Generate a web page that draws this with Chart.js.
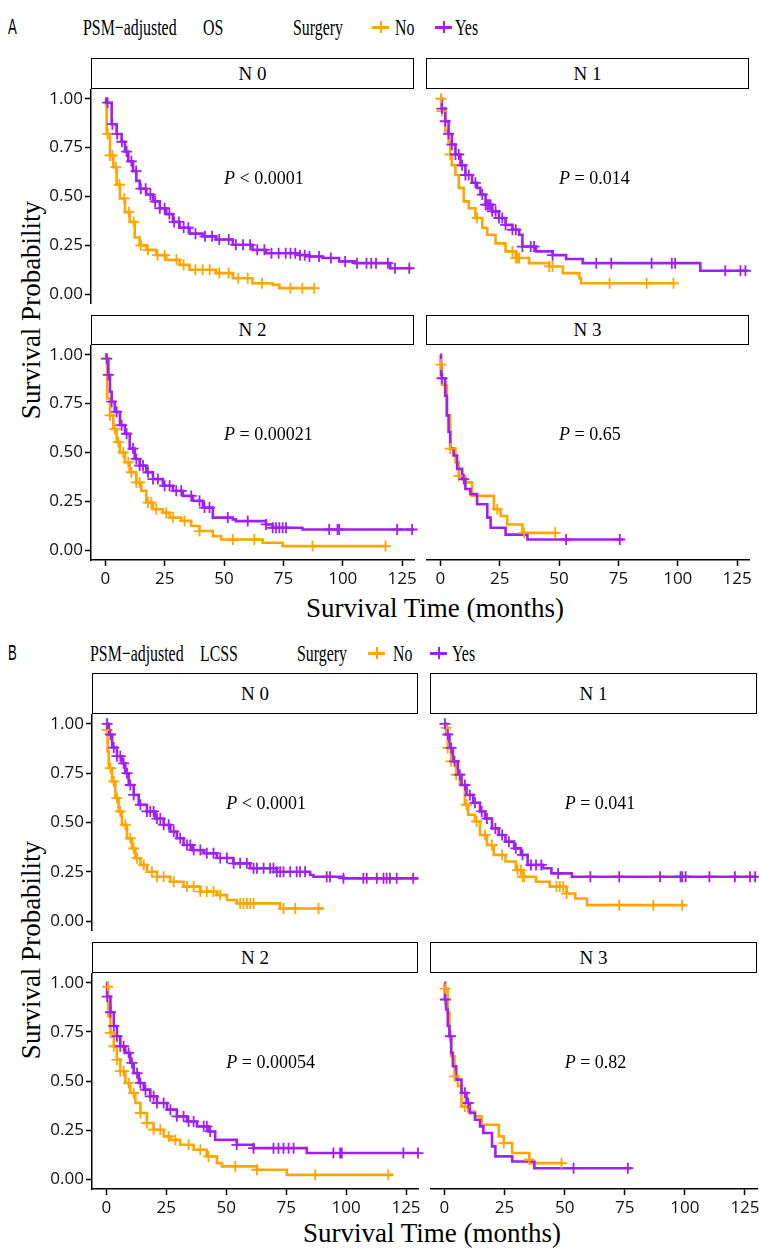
<!DOCTYPE html>
<html lang="en">
<head>
<meta charset="UTF-8">
<title>PSM-adjusted OS / LCSS by N stage</title>
<script src="https://cdn.jsdelivr.net/npm/chart.js"></script>
<style>
  body { margin: 0; background: #fff; }
  #page { position: relative; width: 759px; height: 1249px; overflow: hidden; background: #fff; }
  canvas { position: absolute; }
  .txt { position: absolute; white-space: nowrap; color: #000; line-height: 1; }
  .serif { font-family: "Liberation Serif", "Times New Roman", serif; }
  .tag { font-family: "Liberation Sans", Arial, sans-serif; font-size: 22px; transform: translateY(-50%) scaleX(0.6); transform-origin: left center; }
  .head { font-size: 23px; transform: translateY(-50%) scaleX(0.69); transform-origin: left center; }
  .strip { position: absolute; box-sizing: border-box; border: 1.5px solid #000; background: #fff;
           font-family: "Liberation Serif", serif; font-size: 19px; display: flex; align-items: center; justify-content: center; }
  .key { position: absolute; width: 17px; height: 12px; transform: translateY(-50%); }
  .key .h { position: absolute; left: 0; top: 5px; width: 17px; height: 2.5px; }
  .key .v { position: absolute; left: 7.5px; top: 0; width: 2px; height: 12px; }
  .ytitle { position: absolute; font-size: 27px; transform: translate(-50%, -50%) rotate(-90deg); white-space: nowrap; }
  .xtitle { position: absolute; font-size: 27px; transform: translate(-50%, -50%); white-space: nowrap; }
</style>
</head>
<body>
<div id="page">
  <!-- figure A header -->
  <div class="txt tag" style="left:8px; top:27px">A</div>
  <div class="txt serif head" style="left:83px; top:27px">PSM−adjusted</div>
  <div class="txt serif head" style="left:203px; top:27px">OS</div>
  <div class="txt serif head" style="left:293px; top:27px">Surgery</div>
  <div class="key" style="left:372px; top:27px"><div class="h" style="background:#FFA500"></div><div class="v" style="background:#FFA500"></div></div>
  <div class="txt serif head" style="left:395px; top:27px">No</div>
  <div class="key" style="left:435px; top:27px"><div class="h" style="background:#A020F0"></div><div class="v" style="background:#A020F0"></div></div>
  <div class="txt serif head" style="left:455px; top:27px">Yes</div>

  <div class="strip" style="left:91px; top:58px; width:323px; height:31px">N 0</div>
  <div class="strip" style="left:426px; top:58px; width:323px; height:31px">N 1</div>
  <div class="strip" style="left:91px; top:315px; width:323px; height:30px">N 2</div>
  <div class="strip" style="left:426px; top:315px; width:323px; height:30px">N 3</div>
  <div class="ytitle serif" style="left:31px; top:310px">Survival Probability</div>
  <div class="xtitle serif" style="left:435px; top:608px">Survival Time (months)</div>

  <!-- figure B header -->
  <div class="txt tag" style="left:8px; top:653px">B</div>
  <div class="txt serif head" style="left:90px; top:653px">PSM−adjusted</div>
  <div class="txt serif head" style="left:200px; top:653px">LCSS</div>
  <div class="txt serif head" style="left:297px; top:653px">Surgery</div>
  <div class="key" style="left:368px; top:653px"><div class="h" style="background:#FFA500"></div><div class="v" style="background:#FFA500"></div></div>
  <div class="txt serif head" style="left:393px; top:653px">No</div>
  <div class="key" style="left:430px; top:653px"><div class="h" style="background:#A020F0"></div><div class="v" style="background:#A020F0"></div></div>
  <div class="txt serif head" style="left:452px; top:653px">Yes</div>

  <div class="strip" style="left:92px; top:673px; width:326px; height:41px">N 0</div>
  <div class="strip" style="left:430px; top:673px; width:327px; height:41px">N 1</div>
  <div class="strip" style="left:92px; top:942px; width:326px; height:31px">N 2</div>
  <div class="strip" style="left:430px; top:942px; width:327px; height:31px">N 3</div>
  <div class="ytitle serif" style="left:31px; top:950px">Survival Probability</div>
  <div class="xtitle serif" style="left:432px; top:1233px">Survival Time (months)</div>
</div>

<script>
    // axis ticks
    const xTicks = [0, 25, 50, 75, 100, 125];
    const yTicks = [0, 0.25, 0.5, 0.75, 1];

    // p values (text after the italic P)
    const pvalsA = ['< 0.0001', '= 0.014', '= 0.00021', '= 0.65'];
    const pvalsB = ['< 0.0001', '= 0.041', '= 0.00054', '= 0.82'];

    // ---- A: OS ----
    // N 0
    const aN0NoT = [0, 0.3, 0.6, 2, 3.4, 4.8, 6.2, 8.3, 10.3, 12.4, 14.5, 17.3, 21.5, 25.7, 31.3, 35.5, 46.7, 53.7, 62, 70.5, 73.3, 88.5];
    const aN0NoS = [1, 0.97, 0.82, 0.71, 0.65, 0.56, 0.49, 0.42, 0.37, 0.29, 0.25, 0.227, 0.2, 0.176, 0.15, 0.125, 0.108, 0.082, 0.056, 0.048, 0.031, 0.031];
    const aN0NoCens = [1, 2, 3, 4.5, 6, 8, 10, 12, 15, 18, 22, 25, 30, 33, 38, 41, 44, 48, 52, 56, 60, 66, 78, 83, 88];
    const aN0YesT = [0, 0.5, 2.7, 4.8, 6.9, 8.3, 9.7, 11.7, 13.1, 14.5, 17.3, 20.1, 23, 25.7, 28.5, 31.3, 35.5, 41, 46.7, 53.7, 62, 67.7, 81.7, 86, 91.5, 98.5, 105, 120, 129];
    const aN0YesS = [1, 0.98, 0.87, 0.82, 0.78, 0.73, 0.68, 0.63, 0.58, 0.54, 0.51, 0.475, 0.44, 0.41, 0.37, 0.34, 0.31, 0.296, 0.28, 0.253, 0.227, 0.21, 0.2, 0.193, 0.185, 0.168, 0.159, 0.133, 0.133];
    const aN0YesCens = [1, 3, 5, 7, 9, 11, 13, 15, 17, 19, 21, 23, 25, 27, 29, 31, 33, 35, 38, 42, 45, 48, 52, 55, 58, 61, 64, 67, 70, 73, 76, 78, 80, 82, 84, 86, 90, 95, 101, 106, 110, 112, 114, 119, 122, 128];
    // N 1
    const aN1NoT = [0, 0.5, 2.1, 3.5, 4.2, 4.9, 6.4, 7.8, 9.9, 12, 14.8, 17.7, 19.8, 23.3, 27.5, 31.8, 37.4, 45.9, 51.6, 58.6, 59.3, 99];
    const aN1NoS = [1, 0.937, 0.834, 0.78, 0.715, 0.66, 0.61, 0.544, 0.475, 0.44, 0.39, 0.34, 0.304, 0.26, 0.219, 0.185, 0.159, 0.142, 0.108, 0.082, 0.056, 0.056];
    const aN1NoCens = [0.3, 0.7, 4.2, 15.5, 30.4, 31.8, 32.5, 33.2, 45.9, 47.3, 71.3, 86.9, 98.2];
    const aN1YesT = [0, 0.7, 2.1, 3.5, 4.9, 6.4, 8.5, 10.6, 13.4, 15.5, 16.9, 19.1, 21.9, 24.7, 27.5, 30.4, 33.2, 34.6, 40.3, 47.3, 53, 60, 109.5, 129.5];
    const aN1YesS = [1, 0.95, 0.885, 0.82, 0.766, 0.715, 0.66, 0.61, 0.57, 0.544, 0.51, 0.458, 0.424, 0.39, 0.355, 0.33, 0.304, 0.244, 0.219, 0.2, 0.18, 0.159, 0.12, 0.12];
    const aN1YesCens = [0.7, 2.1, 3.5, 4.9, 6.4, 7.8, 9.2, 10.6, 12, 14.8, 17.7, 19.1, 19.8, 20.5, 21.2, 21.9, 23.3, 24.7, 26.1, 27.5, 30.4, 31.8, 34.6, 38.1, 39.5, 47.3, 65.7, 72, 89, 97.5, 98.9, 120, 126.4, 128.5];
    // N 2
    const aN2NoT = [0, 0.3, 0.8, 2, 3.4, 4.8, 6.2, 8.3, 10.3, 13.1, 15.2, 17.3, 20.1, 24.3, 27.1, 32, 36.2, 39.7, 45.3, 48.8, 66.3, 74.7, 118.7];
    const aN2NoS = [1, 0.98, 0.776, 0.69, 0.62, 0.553, 0.5, 0.45, 0.399, 0.347, 0.304, 0.244, 0.21, 0.192, 0.167, 0.15, 0.124, 0.098, 0.072, 0.055, 0.038, 0.021, 0.021];
    const aN2NoCens = [0.6, 2, 4.1, 5.5, 7.6, 9.7, 11, 13.1, 14.5, 18, 19.4, 21.5, 25.7, 28.5, 33.4, 39.7, 53.7, 62.8, 87.3, 118];
    const aN2YesT = [0, 0.6, 1.3, 2, 2.7, 4, 6.2, 8.3, 10.3, 12.4, 14.5, 17.3, 20.1, 24.3, 28.5, 32.7, 36.9, 41.1, 45.3, 53.7, 55, 67.7, 70.5, 83, 130];
    const aN2YesS = [1, 0.98, 0.897, 0.81, 0.76, 0.708, 0.64, 0.596, 0.52, 0.467, 0.433, 0.399, 0.364, 0.33, 0.304, 0.278, 0.253, 0.218, 0.167, 0.158, 0.149, 0.132, 0.115, 0.106, 0.106];
    const aN2YesCens = [0.6, 1.3, 2.7, 4.8, 6.9, 9, 11.7, 13.1, 14.5, 15.9, 18, 20.1, 22.2, 25, 27.1, 29.9, 32, 36.2, 39.7, 41.8, 43.9, 51.6, 60, 67.7, 70.5, 71.9, 73.3, 74.7, 76.1, 94.3, 97.8, 98.5, 122.9, 129.2];
    // N 3
    const aN3NoT = [0, 0.3, 0.7, 2.8, 4.2, 6.4, 7.8, 10.6, 13.4, 22.6, 25.4, 28.2, 34.6, 49.4];
    const aN3NoS = [1, 0.95, 0.845, 0.69, 0.52, 0.45, 0.38, 0.347, 0.278, 0.21, 0.175, 0.132, 0.089, 0.089];
    const aN3NoCens = [0.3, 4.2, 7.8, 24, 35.3, 48.4];
    const aN3YesT = [0, 0.3, 0.7, 2.1, 2.8, 3.5, 4.2, 5.6, 7.1, 9.2, 10.6, 12.7, 15.5, 19.8, 21.2, 27.5, 36.7, 77];
    const aN3YesS = [1, 0.897, 0.88, 0.79, 0.69, 0.605, 0.519, 0.485, 0.416, 0.364, 0.313, 0.287, 0.235, 0.167, 0.115, 0.08, 0.055, 0.055];
    const aN3YesCens = [0.7, 9.9, 53, 75.6];

    // ---- B: LCSS ----
    // N 0
    const bN0NoT = [0, 0.2, 0.5, 1, 2.4, 3.75, 5.1, 6.5, 8.6, 10.7, 12.1, 14.2, 16.9, 21.1, 26.7, 32.2, 39.2, 46.1, 50.3, 54.4, 72.5, 90.6];
    const bN0NoS = [1, 0.97, 0.86, 0.776, 0.708, 0.624, 0.556, 0.488, 0.42, 0.369, 0.319, 0.285, 0.25, 0.225, 0.2, 0.175, 0.15, 0.132, 0.107, 0.09, 0.064, 0.064];
    const bN0NoCens = [0.3, 1.7, 3.1, 4.4, 5.8, 7.9, 10, 11.4, 12.8, 15.6, 19, 21.1, 23.9, 28.1, 33.6, 36.4, 39.2, 41.9, 44.7, 47.5, 55.8, 57.2, 58.6, 60, 61.4, 73.9, 78.8, 88.5];
    const bN0YesT = [0, 1, 2.4, 4.4, 6.5, 7.9, 9.3, 11.4, 13.5, 16.9, 20.4, 23.9, 26.7, 29.4, 32.2, 35.7, 40.6, 46.1, 53, 60, 71, 85, 86.4, 98.9, 130];
    const bN0YesS = [1, 0.946, 0.88, 0.836, 0.8, 0.75, 0.69, 0.64, 0.59, 0.556, 0.52, 0.488, 0.454, 0.42, 0.386, 0.36, 0.344, 0.32, 0.293, 0.268, 0.25, 0.234, 0.225, 0.217, 0.217];
    const bN0YesCens = [0.3, 1.7, 3.1, 4.4, 5.8, 7.2, 8.6, 10, 11.4, 14.2, 16.9, 18.3, 19.7, 21.1, 22.5, 23.9, 26, 28.1, 30.8, 33.6, 35, 36.4, 39.2, 41.9, 44.7, 47.5, 50.3, 53.1, 55.8, 58.6, 61.4, 62.8, 65.6, 68.3, 69.7, 71.1, 72.5, 73.9, 76.7, 79.4, 80.8, 82.9, 91.9, 93.3, 98.9, 107.2, 108.6, 112.8, 115.6, 116.9, 118.3, 121.1, 128];
    // N 1
    const bN1NoT = [0, 0.7, 1.4, 2.8, 4.9, 6.4, 8.5, 9.9, 12.7, 14.8, 17.7, 20.5, 25.4, 29.7, 32.5, 38.1, 43.8, 50.8, 54.4, 59.3, 100.3];
    const bN1NoS = [1, 0.98, 0.878, 0.81, 0.742, 0.69, 0.59, 0.539, 0.505, 0.437, 0.386, 0.336, 0.302, 0.259, 0.225, 0.2, 0.175, 0.14, 0.115, 0.081, 0.081];
    const bN1NoCens = [0.7, 1.4, 2.8, 4.9, 9.2, 13.4, 16.9, 19.8, 24, 30.4, 31.8, 32.5, 33.2, 46.6, 48, 49.4, 50.8, 72.7, 86.9, 98.9];
    const bN1YesT = [0, 0.7, 2.1, 3.5, 5.6, 7.1, 9.2, 12, 14.8, 16.9, 19.8, 22.6, 25.4, 29, 31.8, 34.6, 41, 44.5, 53, 131];
    const bN1YesS = [1, 0.946, 0.878, 0.81, 0.742, 0.69, 0.64, 0.6, 0.556, 0.52, 0.47, 0.437, 0.403, 0.369, 0.336, 0.285, 0.268, 0.242, 0.225, 0.225];
    const bN1YesCens = [0.2, 1.4, 2.8, 4.2, 6.4, 8.5, 10.6, 12.7, 15.5, 17.7, 21.2, 24, 26.8, 29.7, 32.5, 36, 38.1, 40.3, 47.3, 60.7, 72.7, 89.7, 98.2, 98.9, 100.3, 110.2, 120.8, 127.1, 129.2];
    // N 2
    const bN2NoT = [0, 0.3, 0.8, 1.7, 3.1, 4.4, 5.8, 7.9, 10, 12.1, 14.2, 16.9, 19.7, 23.9, 26.7, 30.8, 36.4, 41.9, 46.1, 48.2, 62.8, 75.3, 119.7];
    const bN2NoS = [1, 0.98, 0.83, 0.745, 0.677, 0.609, 0.55, 0.49, 0.439, 0.388, 0.337, 0.286, 0.252, 0.218, 0.2, 0.175, 0.15, 0.116, 0.082, 0.065, 0.048, 0.022, 0.022];
    const bN2NoCens = [0.6, 1.7, 3.1, 4.4, 5.8, 7.2, 9.3, 11.4, 14.2, 16.9, 19.7, 22.5, 26, 28.8, 34.3, 39.2, 42.6, 53.8, 62.8, 87.1, 117.6];
    const bN2YesT = [0, 0.3, 1.7, 3.1, 4.4, 5.8, 7.9, 10, 11.4, 13.5, 15.6, 18.3, 21.1, 25.3, 29.4, 33.6, 37.8, 42.6, 45.4, 54.4, 61.4, 83.6, 131];
    const bN2YesS = [1, 0.93, 0.85, 0.78, 0.728, 0.677, 0.643, 0.592, 0.54, 0.49, 0.456, 0.422, 0.388, 0.354, 0.32, 0.294, 0.269, 0.243, 0.2, 0.175, 0.158, 0.133, 0.133];
    const bN2YesCens = [0.3, 1.7, 3.1, 4.4, 5.8, 7.2, 9.3, 10.7, 12.8, 14.2, 16.3, 18.3, 19.7, 21.1, 23.9, 26.7, 29.4, 32.2, 34.3, 36.4, 40.6, 41.9, 43.3, 54.4, 61.4, 69.7, 71.8, 73.9, 76, 78.1, 94.7, 97.5, 98.2, 123.9, 130];
    // N 3
    const bN3NoT = [0, 0.3, 1.4, 2.1, 2.8, 4.2, 5.6, 7.1, 9.9, 12.7, 15.5, 22.6, 24.7, 28.2, 35.3, 36, 49.4];
    const bN3NoS = [1, 0.97, 0.847, 0.728, 0.626, 0.524, 0.473, 0.37, 0.345, 0.32, 0.277, 0.218, 0.184, 0.133, 0.099, 0.082, 0.082];
    const bN3NoCens = [0.3, 4.2, 8.5, 24.7, 35.3, 48.7];
    const bN3YesT = [0, 0.2, 0.7, 1.4, 2.1, 2.8, 3.5, 4.9, 7.1, 9.2, 10.6, 12.7, 14.8, 16.2, 19.8, 21.2, 28.2, 37.4, 77.7];
    const bN3YesS = [1, 0.915, 0.864, 0.78, 0.728, 0.643, 0.575, 0.507, 0.44, 0.388, 0.337, 0.303, 0.269, 0.235, 0.167, 0.116, 0.09, 0.056, 0.056];
    const bN3YesCens = [0.4, 2.5, 8.5, 9.9, 53.7, 76.3];

    const colNo = '#FFA500';
    const colYes = '#A020F0';
    const serif = '"Liberation Serif", "Times New Roman", serif';

    // value of the step curve at time t (for censor marks)
    function survAt(ts, ss, t) {
        var v = ss[0];
        for (var i = 0; i < ts.length; i++) {
            if (ts[i] <= t) v = ss[i];
        }
        return v;
    }

    function curve(ts, ss) {
        return ts.map((t, i) => ({ x: t, y: ss[i] }));
    }

    function marks(ts, ss, cens) {
        return cens.map(c => ({ x: c, y: survAt(ts, ss, c) }));
    }

    // writes "P = ..." with italic P, left edge at (50 months, 0.59)
    const pvalPlugin = {
        id: 'pval',
        afterDatasetsDraw(chart, args, opts) {
            const ctx = chart.ctx;
            const x = chart.scales.x.getPixelForValue(50);
            const y = chart.scales.y.getPixelForValue(0.59);
            ctx.save();
            ctx.fillStyle = '#000';
            ctx.textBaseline = 'middle';
            ctx.textAlign = 'left';
            ctx.font = 'italic 18px ' + serif;
            ctx.fillText('P', x, y);
            const wP = ctx.measureText('P').width;
            ctx.font = '18px ' + serif;
            ctx.fillText(' ' + opts.text, x + wP, y);
            ctx.restore();
        }
    };

    function drawPanel(box, showY, showX, no, yes, ptext) {
        const yW = showY ? 60 : 0;
        const xH = showX ? 30 : 0;
        const padR = 16;   // room for the last x tick label
        const cv = document.createElement('canvas');
        cv.width = box.w + yW + padR;
        cv.height = box.h + xH;
        cv.style.left = (box.x - yW) + 'px';
        cv.style.top = box.y + 'px';
        cv.style.width = cv.width + 'px';
        cv.style.height = cv.height + 'px';
        document.getElementById('page').appendChild(cv);

        const lineStyle = { pointRadius: 0, borderWidth: 2.6, stepped: true, fill: false, borderJoinStyle: 'miter' };
        const markStyle = { showLine: false, pointStyle: 'cross', pointRadius: 5.5, pointBorderWidth: 1.8, clip: false };

        new Chart(cv, {
            type: 'line',
            data: {
                datasets: [
                    Object.assign({ label: 'Yes', data: curve(yes[0], yes[1]), borderColor: colYes, order: 2 }, lineStyle),
                    Object.assign({ label: 'No', data: curve(no[0], no[1]), borderColor: colNo, order: 3 }, lineStyle),
                    Object.assign({ label: 'Yes+', data: marks(yes[0], yes[1], yes[2]), borderColor: colYes, backgroundColor: colYes, order: 0 }, markStyle),
                    Object.assign({ label: 'No+', data: marks(no[0], no[1], no[2]), borderColor: colNo, backgroundColor: colNo, order: 1 }, markStyle)
                ]
            },
            options: {
                responsive: false,
                animation: false,
                events: [],
                layout: { padding: { left: 0, top: 0, bottom: 0, right: padR }, autoPadding: false },
                plugins: { legend: { display: false }, tooltip: { enabled: false }, pval: { text: ptext } },
                scales: {
                    x: {
                        type: 'linear',
                        min: -6,
                        max: 130,
                        display: showX,
                        afterBuildTicks: s => { s.ticks = xTicks.map(v => ({ value: v })); },
                        afterFit: s => { s.height = xH; s.paddingLeft = 0; s.paddingRight = 0; },
                        grid: { drawOnChartArea: false, tickLength: 6, tickColor: '#000', tickWidth: 1.5 },
                        border: { display: true, color: '#000', width: 1.5 },
                        ticks: { color: '#111', font: { family: 'Open Sans', size: 17 }, padding: 3, maxRotation: 0, autoSkip: false }
                    },
                    y: {
                        type: 'linear',
                        min: -0.05,
                        max: 1.05,
                        display: showY,
                        afterBuildTicks: s => { s.ticks = yTicks.map(v => ({ value: v })); },
                        afterFit: s => { s.width = yW; s.paddingTop = 0; s.paddingBottom = 0; },
                        grid: { drawOnChartArea: false, tickLength: 6, tickColor: '#000', tickWidth: 1.5 },
                        border: { display: true, color: '#000', width: 1.5 },
                        ticks: { color: '#111', font: { family: 'Open Sans', size: 17 }, padding: 2, autoSkip: false, callback: v => v.toFixed(2) }
                    }
                }
            },
            plugins: [pvalPlugin]
        });
    }

    // figure A
    drawPanel({ x: 91, y: 89, w: 323, h: 215 }, true, false, [aN0NoT, aN0NoS, aN0NoCens], [aN0YesT, aN0YesS, aN0YesCens], pvalsA[0]);
    drawPanel({ x: 426, y: 89, w: 323, h: 215 }, false, false, [aN1NoT, aN1NoS, aN1NoCens], [aN1YesT, aN1YesS, aN1YesCens], pvalsA[1]);
    drawPanel({ x: 91, y: 345, w: 323, h: 215 }, true, true, [aN2NoT, aN2NoS, aN2NoCens], [aN2YesT, aN2YesS, aN2YesCens], pvalsA[2]);
    drawPanel({ x: 426, y: 345, w: 323, h: 215 }, false, true, [aN3NoT, aN3NoS, aN3NoCens], [aN3YesT, aN3YesS, aN3YesCens], pvalsA[3]);

    // figure B
    drawPanel({ x: 92, y: 714, w: 326, h: 217 }, true, false, [bN0NoT, bN0NoS, bN0NoCens], [bN0YesT, bN0YesS, bN0YesCens], pvalsB[0]);
    drawPanel({ x: 430, y: 714, w: 327, h: 217 }, false, false, [bN1NoT, bN1NoS, bN1NoCens], [bN1YesT, bN1YesS, bN1YesCens], pvalsB[1]);
    drawPanel({ x: 92, y: 973, w: 326, h: 216 }, true, true, [bN2NoT, bN2NoS, bN2NoCens], [bN2YesT, bN2YesS, bN2YesCens], pvalsB[2]);
    drawPanel({ x: 430, y: 973, w: 327, h: 216 }, false, true, [bN3NoT, bN3NoS, bN3NoCens], [bN3YesT, bN3YesS, bN3YesCens], pvalsB[3]);
</script>
</body>
</html>
